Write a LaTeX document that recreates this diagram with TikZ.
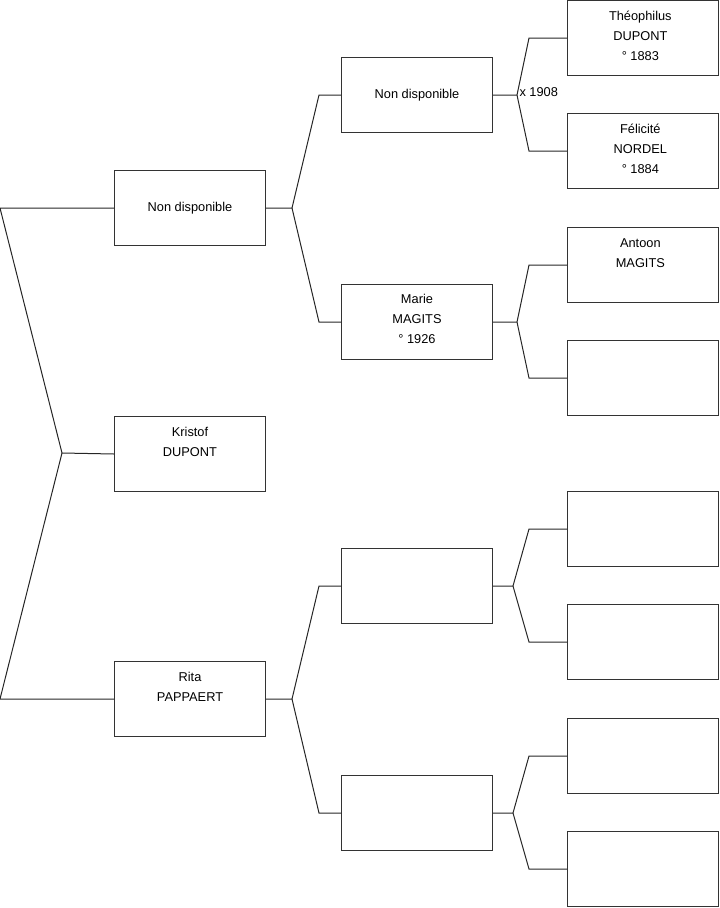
\documentclass[tikz,border=0pt]{standalone}
\usepackage{fontspec}
\setmainfont{Liberation Sans}
\usetikzlibrary{calc}

\begin{document}
\begin{tikzpicture}[x=0.75pt, y=-0.75pt, line width=0.75pt,
    person/.style={draw=black!80, minimum width=113.25pt, minimum height=56.25pt,
      inner sep=0pt, anchor=north west, font=\fontsize{9.6}{15}\selectfont},
    who/.style={font=\fontsize{9.6}{15}\selectfont, align=center, anchor=north, inner sep=0pt},
    link/.style={draw=black!85}]
  \useasboundingbox (0,0) rectangle (719,908);

  % generations 1 and 2
  \node[person] (nd1) at (114,170) {Non disponible};
  \node[person] (kristof) at (114,416) {};
  \node[person] (rita) at (114,661) {};

  % generation 3
  \node[person] (nd2) at (341,57) {Non disponible};
  \node[person] (marie) at (341,284) {};
  \node[person] (e3a) at (341,548) {};
  \node[person] (e3b) at (341,775) {};

  % generation 4
  \node[person] (theo) at (567,0) {};
  \node[person] (feli) at (567,113) {};
  \node[person] (antoon) at (567,227) {};
  \node[person] (e4a) at (567,340) {};
  \node[person] (e4b) at (567,491) {};
  \node[person] (e4c) at (567,604) {};
  \node[person] (e4d) at (567,718) {};
  \node[person] (e4e) at (567,831) {};

  % names
  \node[who] (kristoft) at ([yshift=-4.5pt]kristof.north) {\strut Kristof\\DUPONT};
  \node[who] (ritat) at ([yshift=-4.5pt]rita.north) {\strut Rita\\PAPPAERT};
  \node[who] (mariet) at ([yshift=-3.75pt]marie.north) {\strut Marie\\MAGITS\\° 1926};
  \node[who] (theot) at ([xshift=-2pt, yshift=-4.5pt]theo.north) {\strut Théophilus\\DUPONT\\° 1883};
  \node[who] (felit) at ([xshift=-2pt, yshift=-4.5pt]feli.north) {\strut Félicité\\NORDEL\\° 1884};
  \node[who] (antoont) at ([xshift=-2pt, yshift=-4.5pt]antoon.north) {\strut Antoon\\MAGITS};

  % left fork
  \coordinate (f0) at (62,453);
  \coordinate (top0) at (0,208);
  \coordinate (bot0) at (0,699);
  \draw[link] (nd1.west) -- (top0) -- (f0) -- (kristof.west);
  \draw[link] (rita.west) -- (bot0) -- (f0);

  % generation 2 to 3
  \draw[link] (nd1.east) -- ++(26,0) coordinate (f1) -- ($(nd2.west)+(-22,0)$) -- (nd2.west);
  \draw[link] (f1) -- ($(marie.west)+(-22,0)$) -- (marie.west);
  \draw[link] (rita.east) -- ++(26,0) coordinate (f2) -- ($(e3a.west)+(-22,0)$) -- (e3a.west);
  \draw[link] (f2) -- ($(e3b.west)+(-22,0)$) -- (e3b.west);

  % generation 3 to 4
  \draw[link] (nd2.east) -- ++(24,0) coordinate (f3a) -- ($(theo.west)+(-38,0)$) -- (theo.west);
  \draw[link] (f3a) -- ($(feli.west)+(-38,0)$) -- (feli.west);
  \draw[link] (marie.east) -- ++(24,0) coordinate (f3b) -- ($(antoon.west)+(-38,0)$) -- (antoon.west);
  \draw[link] (f3b) -- ($(e4a.west)+(-38,0)$) -- (e4a.west);
  \draw[link] (e3a.east) -- ++(20,0) coordinate (f3c) -- ($(e4b.west)+(-38,0)$) -- (e4b.west);
  \draw[link] (f3c) -- ($(e4c.west)+(-38,0)$) -- (e4c.west);
  \draw[link] (e3b.east) -- ++(20,0) coordinate (f3d) -- ($(e4d.west)+(-38,0)$) -- (e4d.west);
  \draw[link] (f3d) -- ($(e4e.west)+(-38,0)$) -- (e4e.west);

  % marriage year
  \node[anchor=west, inner sep=0pt, font=\fontsize{9.6}{15}\selectfont] (wed) at ($(f3a)+(2,-3)$) {x 1908};
\end{tikzpicture}
\end{document}
